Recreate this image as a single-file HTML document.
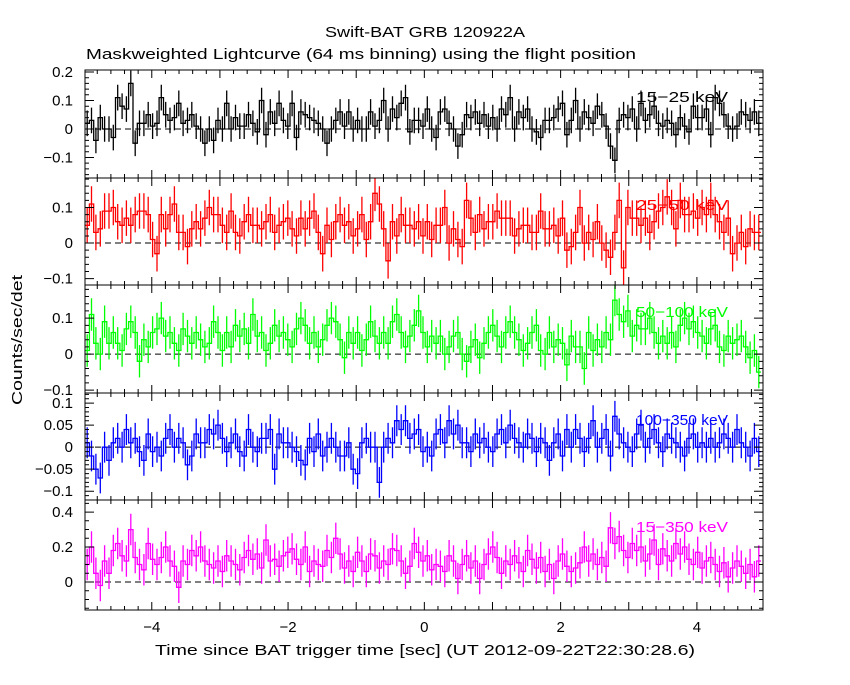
<!DOCTYPE html>
<html><head><meta charset="utf-8"><style>
body{margin:0;background:#fff;}
svg text{font-family:"Liberation Sans",sans-serif;}
</style></head><body>
<svg id="c" width="850" height="680" viewBox="0 0 850 680" xmlns="http://www.w3.org/2000/svg">
<rect width="850" height="680" fill="#fff"/>
<text x="325" y="37" font-size="15" textLength="200" lengthAdjust="spacingAndGlyphs">Swift-BAT GRB 120922A</text>
<text x="86" y="59" font-size="15" textLength="550" lengthAdjust="spacingAndGlyphs">Maskweighted Lightcurve (64 ms binning) using the flight position</text>
<text x="155" y="655" font-size="15" textLength="540" lengthAdjust="spacingAndGlyphs">Time since BAT trigger time [sec] (UT 2012-09-22T22:30:28.6)</text>
<text x="22" y="340" font-size="15" text-anchor="middle" textLength="130" lengthAdjust="spacingAndGlyphs" transform="rotate(-90 22 340)">Counts/sec/det</text>
<g id="g"></g>
</svg>
<script>
const p1=[0.02,0.03,-0.04,0.04,0,0,-0.03,0.11,0.08,0.07,0.16,-0.05,0.02,0.02,0.05,0.01,0.02,0.11,0.05,0.03,0.04,0.09,0.02,0.03,0.05,0.01,0,-0.05,0,-0.04,0.03,0,0.09,0,0.04,0.01,0.01,0.05,0.02,-0.01,0.1,-0.02,0.06,0.02,0.09,0.03,0.01,0.09,-0.03,0.06,0.05,0.04,0.03,0.02,0,-0.05,0,0.03,0.06,0.01,0.06,0,0.03,0,0,0.06,0.01,0.03,0.1,0,0.07,0.04,0.09,0.11,-0.01,0.03,0.03,0.01,0.07,0,-0.03,0.06,0.07,0.02,0,-0.06,-0.02,0.05,0.04,0.06,0.02,0.05,0.01,0.04,0,0.07,0.05,0.11,0,0.06,0.04,0.07,0,-0.01,-0.03,0.03,0.03,0.04,0.07,0.09,-0.02,0.03,0.1,0,0.06,0.04,0.02,0.08,0.05,0.01,-0.06,-0.11,0.03,0.05,0.04,0.07,0,0.09,0.03,0.05,0.08,0.02,0.01,0.03,0.02,-0.02,0.04,0.01,-0.01,0.08,0.04,0.04,0.07,-0.02,0.11,0.09,0.05,0.01,0,0.01,0.06,0.05,0.03,0.06,0.02,0.07,0.06,0.01];
const p2=[0.05,0.11,0.03,0.04,0.09,0.09,0.1,0.06,0.05,0.07,0.05,0.08,0.09,0.09,0.08,0.01,-0.03,0.08,0.04,0.08,0.11,0.03,0.03,-0.01,0.04,0.06,0.04,0.07,0.1,0.08,0.08,0.05,0.03,0.09,0.03,0.02,0.06,0.08,0.05,0.05,0.04,0.06,0.08,0.03,0.05,0.06,0.07,0.04,0.02,0.07,0.04,0.07,0.09,0.03,-0.03,0.05,0.01,0.06,0.08,0.05,0.06,0.02,0.04,0.08,0.01,0.06,0.14,0.11,0.04,-0.05,0.06,0.02,0.08,0.05,0.05,0.04,0.06,0.02,0.06,0.01,0.05,0.05,0.1,0,0.04,0.01,-0.01,0.12,0.07,0.03,0.08,0.04,0.06,0.06,0.09,0.07,0.07,0.07,0.02,0.04,0.05,0.05,0.03,0.03,0.09,0.04,0.04,0.05,0.02,0.07,-0.02,-0.01,0.03,0.1,0,0.03,0.01,0.06,0,-0.02,-0.04,0.03,0.12,-0.07,0.1,0.07,0.07,0.05,0.07,0.03,0.06,0.09,0.1,0.13,0.1,0.04,0.12,0.08,0.08,0.09,0.07,0.1,0.08,0.12,0.08,0.06,0.03,0.07,-0.03,0,0.03,-0.01,0.04,0.03,0.03,0.01,0.1,0.07];
const p3=[0.01,0.11,0.03,0,0.09,0.03,0.06,0.03,0.01,0.07,0.09,0.06,-0.02,0.04,0.02,0.06,0.07,0.1,0.05,0.06,0.03,0.01,0.07,0.05,0.03,0.06,0.04,0.02,0.03,0.09,0.06,0.01,0.06,0.02,0.08,0.05,0.07,0.03,0.11,0.05,0.06,0.01,0.03,0.08,0.05,0.06,0.04,0.02,0.07,0.1,0.08,0.03,0.06,0.02,0.04,0.08,0.1,0.09,0.04,-0.01,0.06,0.03,0.06,0.01,0.04,0.09,0.05,0.03,0.06,0.03,0.09,0.11,0.06,0.02,0.05,0.08,0.12,0.06,0.02,0.05,0.03,0.05,0,0.02,0.05,0.06,0,-0.02,0.02,0.04,-0.01,0.03,0.06,0.08,0.05,0.02,0.06,0.09,0.06,0.04,0.01,0.03,0.06,0.08,0.01,0,0.06,0.02,0.04,0.03,-0.03,0.05,0.02,0.02,-0.04,0.06,0.01,0.04,0.02,0.06,0.04,0.15,0.11,0.09,0.12,0.05,0.08,0.07,0.07,0.1,0.06,0.03,0.05,0.03,0.06,0.02,0.08,0.1,0.07,0.09,0.06,0.05,0.03,0.07,0.08,0.02,0.01,0.05,0.03,0.04,0.05,0.02,-0.01,0.01,-0.05,-0.06,0.03,0.07];
const p4=[0.01,-0.02,-0.05,-0.07,0,-0.03,0.01,0.02,0,0.04,0.01,0.02,-0.01,-0.03,0.03,-0.01,0,-0.02,0.02,0.04,0,0.02,0.01,-0.04,-0.02,0.03,0.01,0.01,0.04,0.03,0.05,0.02,-0.01,0.01,0.03,-0.01,-0.02,0.04,0,-0.01,0.02,0.02,0.04,-0.05,0.03,0.01,0.01,0,-0.01,-0.03,-0.04,0.02,-0.01,0.03,-0.02,0,0.02,0,-0.02,-0.02,0.01,-0.05,-0.06,0.01,0.02,0,0,-0.08,0,0.02,0.01,0.06,0.04,0.06,0.02,0.03,0.04,-0.01,0,-0.02,0.03,0.04,0.01,0.06,0.03,0.05,0.01,0.01,-0.01,0.03,0.01,0.02,0,-0.01,0.03,0.04,0.01,0.05,0.02,0.01,0,0.03,0.02,-0.01,0.02,0.01,-0.03,0.01,0.03,-0.02,0.04,0,0.04,0.02,-0.01,0.02,0.06,0,0.02,0.04,-0.02,0.07,0.03,0.01,0,-0.01,0.03,0.05,0,0.02,0.04,0.01,-0.01,0.03,0.02,0.01,0,-0.02,0.02,0.03,0,0.01,0,0.02,0,0.01,0.03,0.02,0,0.04,0.01,0,-0.02,0.02,-0.01,0,0.05,0.06];
const p5=[0.1,0.2,0.05,-0.02,0.12,0.05,0.18,0.22,0.15,0.12,0.3,0.14,0.1,0.07,0.22,0.13,0.1,0.14,0.2,0.12,0.09,-0.03,0.12,0.1,0.18,0.15,0.2,0.12,0.1,0.08,0.12,0.06,0.15,0.12,0.1,0.07,0.14,0.18,0.13,0.16,0.08,0.24,0.12,0.13,0.09,0.15,0.17,0.19,0.13,0.1,0.2,0.06,0.12,0.1,0.09,0.18,0.14,0.25,0.16,0.08,0.12,0.06,0.17,0.12,0.06,0.16,0.15,0.08,0.12,0.1,0.19,0.18,0.12,0.05,0.09,0.22,0.17,0.12,0.15,0.07,0.1,0.09,0.06,0.15,0.12,0.02,0.1,0.15,0.08,0.12,0.02,0.1,0.16,0.2,0.14,0.05,0.12,0.1,0.15,0.11,0.06,0.18,0.13,0.08,0.14,0.06,0.1,0.02,0.12,0.16,0.09,0.06,0.08,0.11,0.2,0.12,0.16,0.1,0.14,0.09,0.31,0.22,0.26,0.18,0.14,0.22,0.18,0.2,0.12,0.16,0.24,0.1,0.19,0.15,0.12,0.22,0.16,0.2,0.13,0.1,0.17,0.08,0.12,0.14,0.1,0.06,0.11,0.03,0.08,0.12,0.09,0.05,0.1,0.03,0.12,0.16];
const panels=[
 {d:p1,top:70,bot:178,lo:-0.172,hi:0.207,col:'#000',err:0.045,ticks:[-0.1,0,0.1,0.2],labs:['\u22120.1','0','0.1','0.2'],minor:0.02,name:'15\u221225 keV'},
 {d:p2,top:178,bot:285,lo:-0.118,hi:0.183,col:'#f00',err:0.05,ticks:[-0.1,0,0.1],labs:['\u22120.1','0','0.1'],minor:0.02,name:'25\u221250 keV'},
 {d:p3,top:285,bot:393,lo:-0.108,hi:0.192,col:'#0f0',err:0.045,ticks:[-0.1,0,0.1],labs:['\u22120.1','0','0.1'],minor:0.02,name:'50\u2212100 keV'},
 {d:p4,top:393,bot:500,lo:-0.12,hi:0.123,col:'#00f',err:0.035,ticks:[-0.1,-0.05,0,0.05,0.1],labs:['\u22120.1','\u22120.05','0','0.05','0.1'],minor:0.01,name:'100\u2212350 keV'},
 {d:p5,top:500,bot:610,lo:-0.16,hi:0.469,col:'#f0f',err:0.09,ticks:[0,0.2,0.4],labs:['0','0.2','0.4'],minor:0.05,name:'15\u2212350 keV'}];
const xTicks=[-4,-2,0,2,4];
const xLabs=['\u22124','\u22122','0','2','4'];
const L=85,R=763,T0=-4.98,T1=4.97,BW=0.064;
const X=t=>L+(t-T0)/(T1-T0)*(R-L);
const g=document.getElementById('g');
const NS='http://www.w3.org/2000/svg';
function mk(tag,a){const e=document.createElementNS(NS,tag);for(const k in a)e.setAttribute(k,a[k]);g.appendChild(e);return e;}
panels.forEach((p,pi)=>{
 const Y=v=>p.bot-(v-p.lo)/(p.hi-p.lo)*(p.bot-p.top);
 let path='';let err='';let first=true;
 p.d.forEach((v,i)=>{const t=T0+BW*(i+0.5);const xc=X(t);if(xc>R)return;const x0=Math.max(L,X(t-BW/2)),x1=Math.min(R,X(t+BW/2));const y=Y(v);
  path+=(first?'M':'L')+x0.toFixed(1)+','+y.toFixed(1)+'L'+x1.toFixed(1)+','+y.toFixed(1);first=false;
  err+='M'+xc.toFixed(1)+','+Math.max(p.top,Y(v+p.err)).toFixed(1)+'V'+Math.min(p.bot,Y(v-p.err)).toFixed(1);});
 let e=mk('line',{x1:L,x2:R,y1:Y(0),y2:Y(0),stroke:'#000','stroke-dasharray':'6,4','stroke-width':1});
 
 
 e=mk('path',{d:err,stroke:p.col,'stroke-width':1.3,fill:'none'});
 
 
 e=mk('path',{d:path,stroke:p.col,'stroke-width':1.3,fill:'none'});
 
 
 e=mk('rect',{x:L,y:p.top,width:R-L,height:p.bot-p.top,fill:'none',stroke:'#000','stroke-width':1});
 
 
 let tk='';
 for(let k=-25;k<=25;k++){const t=k*0.2;const x=X(t);if(x<L||x>R)continue;const len=(k%5==0)?8:4;tk+='M'+x+','+p.bot+'v'+(-len)+'M'+x+','+p.top+'v'+len;}
 for(let v=Math.ceil(p.lo/p.minor)*p.minor;v<=p.hi;v+=p.minor){const y=Y(v);tk+='M'+L+','+y+'h4M'+R+','+y+'h-4';}
 p.ticks.forEach(v=>{const y=Y(v);tk+='M'+L+','+y+'h9M'+R+','+y+'h-9';});
 e=mk('path',{d:tk,stroke:'#000','stroke-width':1,fill:'none'});
 
 
 p.ticks.forEach((v,j)=>{const t=mk('text',{x:L-12,y:Y(v)+5,'font-size':15,'text-anchor':'end'});t.textContent=p.labs[j];
  
  });
 const lt=mk('text',{x:728,y:p.top+32,'font-size':15,'text-anchor':'end',fill:p.col,textLength:92,lengthAdjust:'spacingAndGlyphs'});lt.textContent=p.name;
 
 
});
xTicks.forEach((t,j)=>{const e=mk('text',{x:X(t),y:632,'font-size':15,'text-anchor':'middle'});e.textContent=xLabs[j];
 
 });
</script>
</body></html>
